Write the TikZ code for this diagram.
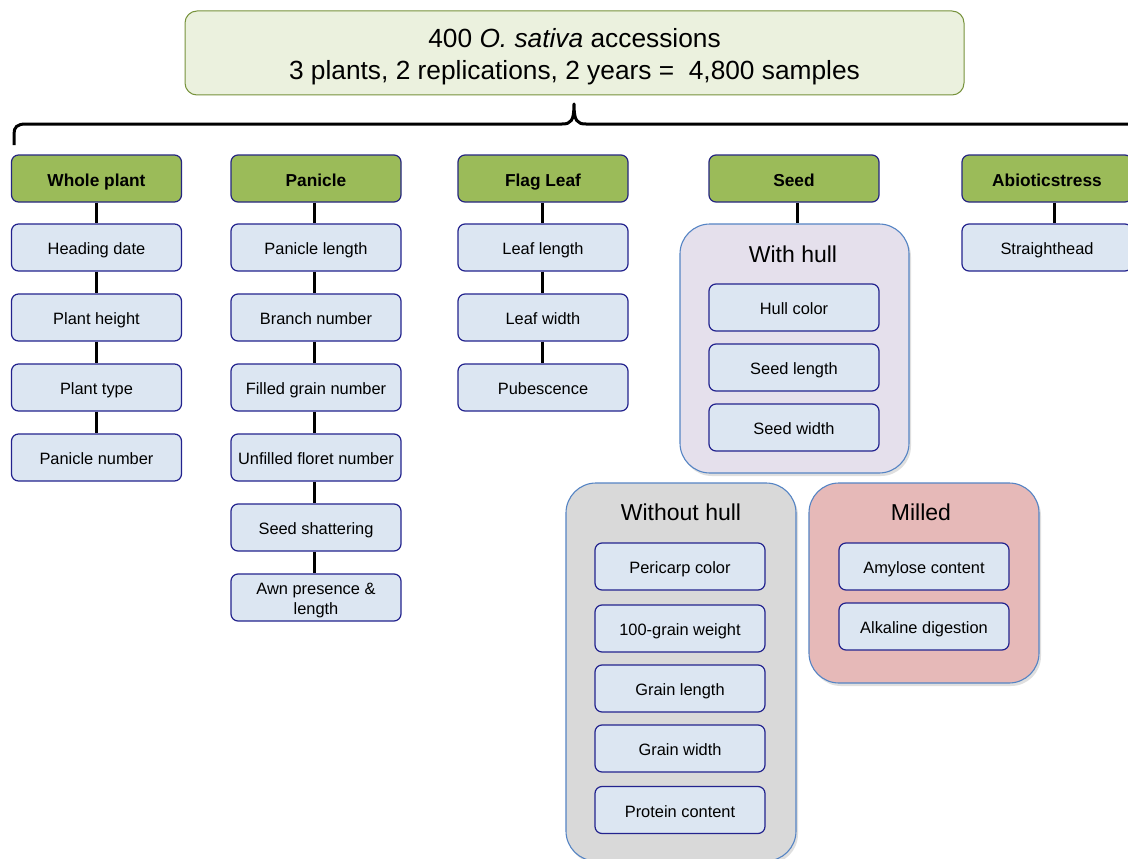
\documentclass[tikz,border=0pt]{standalone}
\usepackage{fontspec}
\setmainfont{Liberation Sans}
\usetikzlibrary{shadows}
\definecolor{topfill}{HTML}{EBF1DE}
\definecolor{topdraw}{HTML}{77933C}
\definecolor{catfill}{HTML}{9BBB59}
\definecolor{catdraw}{HTML}{262680}
\definecolor{itemfill}{HTML}{DCE6F2}
\definecolor{itemdraw}{HTML}{23238E}
\definecolor{contdraw}{HTML}{5584C4}
\definecolor{hullfill}{HTML}{E5E0EC}
\definecolor{nohullfill}{HTML}{D9D9D9}
\definecolor{milledfill}{HTML}{E6B9B8}
\tikzset{
  topbox/.style={draw=topdraw, fill=topfill, line width=1pt, rounded corners=12pt,
    minimum width=779pt, minimum height=84pt, inner sep=0pt},
  toptext/.style={inner sep=0pt, align=center, font=\fontsize{26.3}{32}\selectfont},
  catbox/.style={draw=catdraw, fill=catfill, line width=1.2pt, rounded corners=7pt,
    minimum width=170pt, minimum height=47pt, inner sep=0pt,
    text height=17.5pt, text depth=2.5pt,
    font=\fontsize{17.3}{20}\selectfont\bfseries},
  itembase/.style={draw=itemdraw, fill=itemfill, line width=1.2pt, rounded corners=7pt,
    minimum width=170pt, minimum height=47pt, inner sep=0pt, align=center,
    font=\fontsize{16.4}{20}\selectfont},
  itembox/.style={itembase, text height=17pt, text depth=3pt},
  container/.style={draw=contdraw, line width=1.1pt, rounded corners=30pt,
    minimum width=230pt, inner sep=0pt,
    drop shadow={opacity=0.25, shadow xshift=2pt, shadow yshift=-3pt}},
  conttitle/.style={inner sep=0pt, font=\fontsize{23}{26}\selectfont},
  link/.style={line width=3pt, black},
  bracepath/.style={line width=3pt, black, line join=round}
}
\begin{document}
\begin{tikzpicture}[x=1pt,y=1pt]
\useasboundingbox (0,0) rectangle (1128,-859);
\clip (0,0) rectangle (1128,-859);
\fill[white] (0,0) rectangle (1128,-859);

% top box
\node[topbox] (top) at (574.5,-53) {};
\node[toptext] (toptxt) at (574.5,-57) {400 \textit{O. sativa} accessions\\3 plants, 2 replications, 2 years =\ \ 4,800 samples};

% brace
\coordinate (bl) at (14,-145);
\coordinate (btip) at (574,-104);
\coordinate (br) at (1140,-124);
\draw[bracepath] (bl) -- (14,-134) .. controls (14,-127) and (17,-124) .. (26,-124)
  -- (562,-124) .. controls (571,-124) and (574,-121) .. (btip)
  .. controls (574,-121) and (577,-124) .. (586,-124) -- (br);

% categories
\node[catbox] (whole) at (96.5,-178.5) {Whole plant};
\node[catbox] (pan) at (316,-178.5) {Panicle};
\node[catbox] (flag) at (543,-178.5) {Flag Leaf};
\node[catbox] (seed) at (794,-178.5) {Seed};
\node[catbox] (abio) at (1047,-178.5) {Abioticstress};

% containers
\node[container, fill=hullfill, minimum width=229pt, minimum height=249pt] (withhull) at (794.5,-348.5) {};
\node[container, fill=nohullfill, minimum height=378pt] (nohull) at (681,-672) {};
\node[container, fill=milledfill, minimum height=200pt] (milled) at (924,-583) {};
\node[conttitle] (twh) at (793,-254) {With hull};
\node[conttitle] (tnh) at (681,-512) {Without hull};
\node[conttitle] (tml) at (921,-512) {Milled};

% whole plant items
\node[itembox] (w1) at (96.5,-247.5) {Heading date};
\node[itembox] (w2) at (96.5,-317.5) {Plant height};
\node[itembox] (w3) at (96.5,-387.5) {Plant type};
\node[itembox] (w4) at (96.5,-457.5) {Panicle number};

% panicle items
\node[itembox] (p1) at (316,-247.5) {Panicle length};
\node[itembox] (p2) at (316,-317.5) {Branch number};
\node[itembox] (p3) at (316,-387.5) {Filled grain number};
\node[itembox] (p4) at (316,-457.5) {Unfilled floret number};
\node[itembox] (p5) at (316,-527.5) {Seed shattering};
\node[itembase] (p6) at (316,-597.5) {\rule{0pt}{18pt}Awn presence \&\\length};

% flag leaf items
\node[itembox] (f1) at (543,-247.5) {Leaf length};
\node[itembox] (f2) at (543,-317.5) {Leaf width};
\node[itembox] (f3) at (543,-387.5) {Pubescence};

% abiotic
\node[itembox] (a1) at (1047,-247.5) {Straighthead};

% with hull
\node[itembox] (h1) at (794,-307.5) {Hull color};
\node[itembox] (h2) at (794,-367.5) {Seed length};
\node[itembox] (h3) at (794,-427.5) {Seed width};

% without hull
\node[itembox] (n1) at (680,-566.5) {Pericarp color};
\node[itembox] (n2) at (680,-628.5) {100-grain weight};
\node[itembox] (n3) at (680,-688.5) {Grain length};
\node[itembox] (n4) at (680,-748.5) {Grain width};
\node[itembox] (n5) at (680,-810) {Protein content};

% milled
\node[itembox] (m1) at (924,-566.5) {Amylose content};
\node[itembox] (m2) at (924,-626.5) {Alkaline digestion};

% connectors
\draw[link] (whole.south) -- (w1.north);
\draw[link] (w1.south) -- (w2.north);
\draw[link] (w2.south) -- (w3.north);
\draw[link] (w3.south) -- (w4.north);
\draw[link] ([xshift=-2pt]pan.south) -- ([xshift=-2pt]p1.north);
\draw[link] ([xshift=-2pt]p1.south) -- ([xshift=-2pt]p2.north);
\draw[link] ([xshift=-2pt]p2.south) -- ([xshift=-2pt]p3.north);
\draw[link] ([xshift=-2pt]p3.south) -- ([xshift=-2pt]p4.north);
\draw[link] ([xshift=-2pt]p4.south) -- ([xshift=-2pt]p5.north);
\draw[link] ([xshift=-2pt]p5.south) -- ([xshift=-2pt]p6.north);
\draw[link] ([xshift=-1pt]flag.south) -- ([xshift=-1pt]f1.north);
\draw[link] ([xshift=-1pt]f1.south) -- ([xshift=-1pt]f2.north);
\draw[link] ([xshift=-1pt]f2.south) -- ([xshift=-1pt]f3.north);
\draw[link] ([xshift=3pt]seed.south) -- ([xshift=2.5pt]withhull.north);
\draw[link] ([xshift=7pt]abio.south) -- ([xshift=7pt]a1.north);
\end{tikzpicture}
\end{document}
